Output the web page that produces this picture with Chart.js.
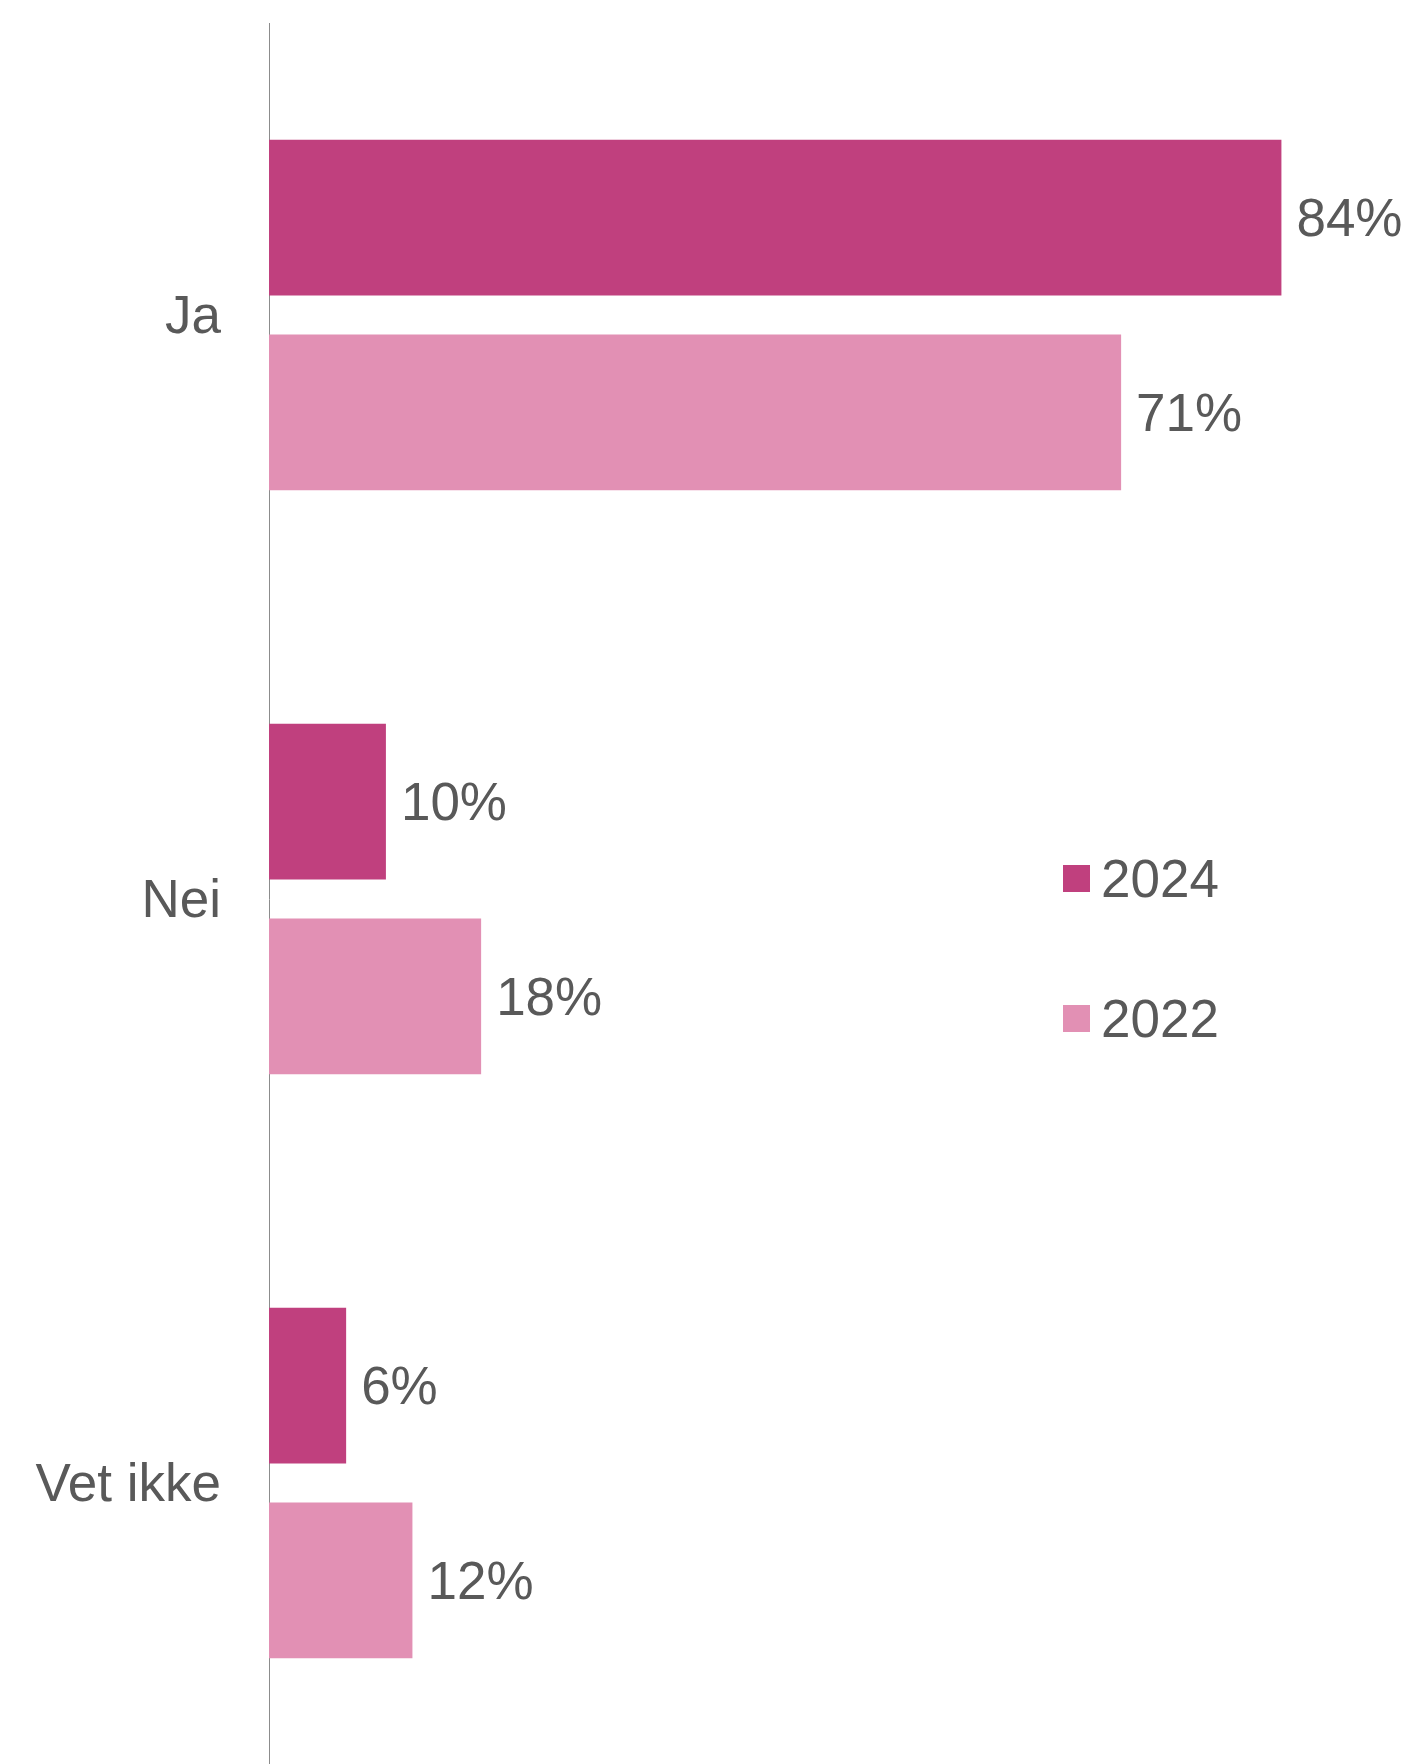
<!DOCTYPE html>
<html>
<head>
<meta charset="utf-8">
<script src="https://cdn.jsdelivr.net/npm/chart.js@4"></script>
<style>
	body {
		margin: 0;
		overflow: hidden;
		background: #ffffff;
		font-family: "Liberation Sans", Arial, sans-serif;
	}
	.wrap {
		position: relative;
		width: 1415px;
		height: 1764px;
	}
	.legend {
		position: absolute;
		left: 1063px;
		top: 852px;
	}
	.legend__item {
		position: relative;
		height: 139.5px;
		font-size: 53px;
		line-height: 53px;
		color: #595959;
		padding-left: 38px;
	}
	.legend__box {
		position: absolute;
		left: 0;
		top: 13px;
		width: 27px;
		height: 27px;
	}
</style>
</head>
<body>
<div class="wrap">
	<canvas id="answer-chart" width="1415" height="1775"></canvas>
	<div class="legend" id="legend"></div>
</div>
<script>
const categories = ["Ja", "Nei", "Vet ikke"];
const years = ["2024", "2022"];
const values2024 = [84, 9.7, 6.4];
const values2022 = [70.7, 17.6, 11.9];
const colors = ["#C0407E", "#E290B4"];

// value labels at the end of each bar
const barValueLabels = {
	id: "barValueLabels",
	afterDatasetsDraw(chart) {
		const ctx = chart.ctx;
		ctx.save();
		ctx.font = '53px "Liberation Sans", Arial, sans-serif';
		ctx.fillStyle = "#595959";
		ctx.textAlign = "left";
		ctx.textBaseline = "middle";
		chart.data.datasets.forEach((ds, i) => {
			chart.getDatasetMeta(i).data.forEach((bar, j) => {
				ctx.fillText(Math.round(ds.data[j]) + "%", bar.x + 15, bar.y + 4);
			});
		});
		ctx.restore();
	},
};

const answerCanvas = document.getElementById("answer-chart");

const answerChart = new Chart(answerCanvas, {
	type: "bar",
	data: {
		labels: categories,
		datasets: [
			{
				label: years[0],
				data: values2024,
				backgroundColor: colors[0],
			},
			{
				label: years[1],
				data: values2022,
				backgroundColor: colors[1],
			},
		],
	},
	options: {
		indexAxis: "y",
		responsive: false,
		animation: false,
		categoryPercentage: 0.6667,
		barPercentage: 0.8,
		layout: {
			padding: { top: 23, right: 1, bottom: 0, left: 0 },
		},
		plugins: {
			legend: { display: false },
			tooltip: { enabled: false },
		},
		scales: {
			x: {
				display: false,
				min: 0,
				max: 95,
			},
			y: {
				afterFit(scale) {
					// fixed axis width, no extra room for label halves
					scale.width = 269;
					scale.paddingTop = 0;
					scale.paddingBottom = 0;
				},
				grid: { display: false, drawTicks: false },
				border: { display: true, color: "#8c8c8c", width: 1 },
				ticks: {
					padding: 48,
					labelOffset: 3,
					color: "#595959",
					font: { family: '"Liberation Sans", Arial, sans-serif', size: 53 },
				},
			},
		},
	},
	plugins: [barValueLabels],
});

// html legend
const legendEl = document.getElementById("legend");
answerChart.data.datasets.forEach((ds) => {
	const item = document.createElement("div");
	item.className = "legend__item";
	const box = document.createElement("span");
	box.className = "legend__box";
	box.style.background = ds.backgroundColor;
	item.appendChild(box);
	item.appendChild(document.createTextNode(ds.label));
	legendEl.appendChild(item);
});
</script>
</body>
</html>
